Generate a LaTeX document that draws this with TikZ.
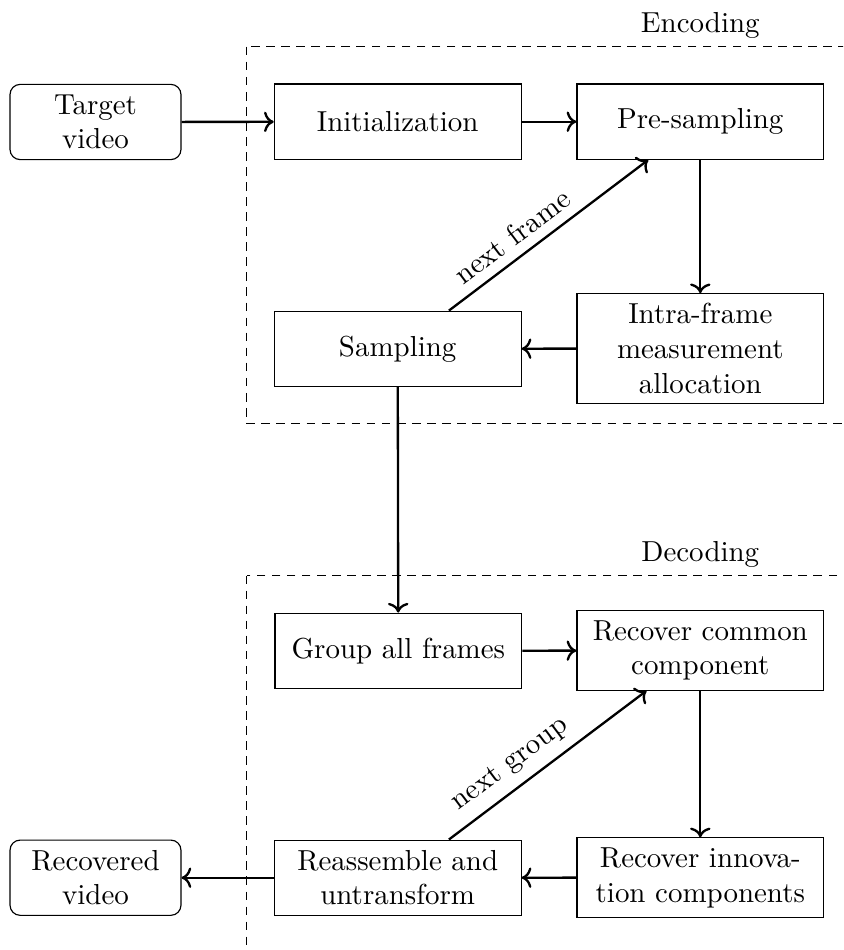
\documentclass[tikz,border=0pt]{standalone}
\usetikzlibrary{arrows.meta}
\begin{document}
\begin{tikzpicture}[x=0.34554pt,y=-0.34554pt,
  box/.style={draw, rectangle, text width=78.6pt, align=center, minimum height=26pt},
  term/.style={draw, rectangle, rounded corners=3.5pt, text width=52.4pt, align=center, minimum height=26pt},
  conn/.style={thick, ->},
  region/.style={draw, dash pattern=on 3pt off 2.2pt},
  lbl/.style={above, sloped, pos=0.38}]
\useasboundingbox (0,0) rectangle (843,950);
\clip (0,0) rectangle (843,950);
% dashed regions
\draw[region] (246.7,46.7) rectangle (900,423.3);
\draw[region] (246.7,575.5) rectangle (900,1000);
\node[anchor=base] (enc) at (700.3,32.5) {Encoding};
\node[anchor=base] (dec) at (700.3,561.3) {Decoding};
% nodes
\node[term] (tv) at (95.5,122) {Target video};
\node[box] (init) at (397.7,121.7) {Initialization};
\node[box] (pre) at (700.3,121.7) {Pre-sampling};
\node[box] (intra) at (700.3,348.5) {Intra-frame measurement allocation};
\node[box] (samp) at (397.7,348.8) {Sampling};
\node[box] (group) at (398.3,650.8) {Group all frames};
\node[box] (common) at (700.3,650.5) {Recover common component};
\node[box] (innov) at (700.3,877.6) {Recover innovation components};
\node[box] (reas) at (397.7,877.7) {Reassemble and untransform};
\node[term] (rv) at (95.5,877.7) {Recovered video};
% connectors
\draw[conn] (tv) -- (init);
\draw[conn] (init) -- (pre);
\draw[conn] (pre) -- (intra);
\draw[conn] (intra) -- (samp);
\draw[conn] ([xshift=17.7pt]samp.north) -- node[lbl] {next frame} ([xshift=-18pt]pre.south);
\draw[conn] (samp) -- (group);
\draw[conn] (group) -- (common);
\draw[conn] (common) -- (innov);
\draw[conn] (innov) -- (reas);
\draw[conn] (reas) -- (rv);
\draw[conn] ([xshift=17.7pt]reas.north) -- node[lbl] {next group} ([xshift=-18.6pt]common.south);
\end{tikzpicture}
\end{document}
